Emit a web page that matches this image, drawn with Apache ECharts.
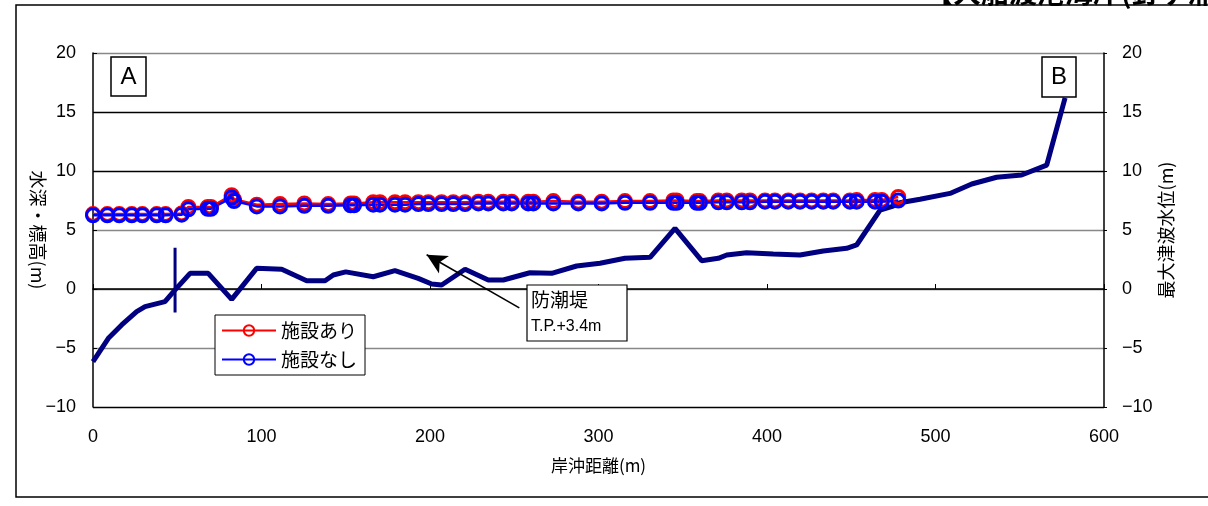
<!DOCTYPE html>
<html>
<head>
<meta charset="utf-8">
<script src="https://cdn.jsdelivr.net/npm/echarts@6/dist/echarts.min.js"></script>
<style>
  html, body { margin: 0; padding: 0; background: #fff; }
  #main { width: 1208px; height: 506px; }
</style>
</head>
<body>
<div id="main"></div>
<script>
// 地盤高（岸沖距離, 標高）
var groundX = [0, 9.1, 17, 25.9, 30.9, 42.7, 48.7, 57.6, 68.4, 82.3, 97.1, 112, 126.8, 137.7, 142.6, 150,
  166.3, 179.2, 193, 201, 206.9, 220.8, 234.6, 243.5, 259.3, 272.2, 287, 300.9, 315.7, 330.6, 345.4,
  361.2, 371.1, 376.1, 387.9, 403.7, 419.6, 433.4, 447.3, 453.2, 467.1, 474.9, 478.9, 490.8, 508.6,
  521.5, 536.3, 551.1, 566, 576.9];
var groundY = [-6.16, -4.18, -3.05, -1.92, -1.5, -1.07, -0.08, 1.33, 1.33, -0.88, 1.75, 1.67, 0.7, 0.7, 1.19, 1.45,
  1.04, 1.55, 0.9, 0.42, 0.34, 1.67, 0.76, 0.76, 1.38, 1.33, 1.95, 2.18, 2.6, 2.69, 5.14,
  2.4, 2.6, 2.88, 3.08, 2.97, 2.88, 3.22, 3.45, 3.73, 6.69, 7.03, 7.31, 7.6, 8.1,
  8.9, 9.47, 9.66, 10.5, 16.2];

// 防潮堤
var wallX = [48.7, 48.7];
var wallY = [3.5, -2.0];

// 最大津波水位の出力地点
var stations = [0, 8.5, 15.6, 23, 29.3, 37.8, 43.1, 52.6, 56.6, 68.1, 70, 82.3, 83.7, 97.2, 111, 125.4,
  139.6, 152.9, 154.9, 166.3, 170.3, 179.2, 185.2, 193.1, 199, 206.9, 213.8, 220.8, 228.7, 234.6,
  243.5, 248.5, 258.3, 261.3, 273.2, 288, 301.9, 315.7, 330.6, 344.4, 346.4, 358.3, 360.2, 371.1,
  376.1, 385, 389.9, 398.8, 404.7, 412.6, 419.6, 426.5, 433.4, 439.3, 449.2, 453.2, 464.1, 468.1, 477.9];
var withFacility = [6.35, 6.35, 6.35, 6.35, 6.35, 6.35, 6.35, 6.4, 6.95, 6.95, 6.95, 7.95, 7.6, 7.15, 7.2, 7.25,
  7.2, 7.25, 7.25, 7.35, 7.35, 7.35, 7.35, 7.35, 7.35, 7.35, 7.35, 7.35, 7.4, 7.4,
  7.4, 7.4, 7.4, 7.4, 7.45, 7.4, 7.4, 7.45, 7.45, 7.5, 7.5, 7.45, 7.45, 7.5,
  7.5, 7.5, 7.5, 7.5, 7.5, 7.5, 7.5, 7.5, 7.5, 7.5, 7.5, 7.55, 7.55, 7.55, 7.8];
var withoutFacility = [6.25, 6.25, 6.25, 6.25, 6.25, 6.25, 6.25, 6.3, 6.75, 6.8, 6.8, 7.75, 7.45, 7.0, 7.0, 7.05,
  7.05, 7.1, 7.1, 7.15, 7.15, 7.15, 7.15, 7.2, 7.2, 7.2, 7.2, 7.2, 7.25, 7.25,
  7.25, 7.25, 7.25, 7.25, 7.25, 7.25, 7.25, 7.3, 7.3, 7.3, 7.3, 7.3, 7.3, 7.35,
  7.35, 7.35, 7.35, 7.4, 7.4, 7.4, 7.4, 7.4, 7.4, 7.4, 7.4, 7.4, 7.4, 7.4, 7.5];

var seriesNames = ['施設あり', '施設なし'];

function pairs(xs, ys) {
  return xs.map(function (x, i) { return [x, ys[i]]; });
}

var numFont = "'Liberation Sans', Arial, sans-serif";
var jpFont = "'Noto Sans CJK JP', sans-serif";
function minus(v) { return String(v).replace('-', '\u2212'); }

var option = {
  backgroundColor: '#fff',
  animation: false,
  grid: { left: 93, top: 53, width: 1011, height: 354 },
  legend: {
    data: seriesNames,
    orient: 'vertical',
    left: 215, top: 315,
    padding: [6, 8, 6, 6],
    itemWidth: 54, itemHeight: 13, itemGap: 10, itemTextGap: 5,
    borderColor: '#000', borderWidth: 1, borderRadius: 0,
    backgroundColor: '#fff',
    textStyle: { fontSize: 19, fontFamily: jpFont, color: '#000' }
  },
  xAxis: {
    type: 'value', min: 0, max: 600, interval: 100,
    name: '岸沖距離(m)', nameLocation: 'middle', nameGap: 50,
    nameTextStyle: { fontSize: 17, fontFamily: jpFont, color: '#000' },
    axisLine: { lineStyle: { color: '#000', width: 1.5 } },
    axisTick: { inside: true, length: 5, lineStyle: { color: '#000' } },
    axisLabel: { fontSize: 18, fontFamily: numFont, color: '#000', margin: 21 },
    splitLine: { show: false }
  },
  yAxis: [{
    type: 'value', min: -10, max: 20, interval: 5,
    name: '水深・標高(m)', nameLocation: 'middle', nameGap: 46, nameRotate: -90,
    nameMoveOverlap: false,
    nameTextStyle: { fontSize: 18, fontFamily: jpFont, color: '#000' },
    axisLine: { show: true, lineStyle: { color: '#000', width: 1.5 } },
    axisTick: { show: true, inside: true, length: 4, lineStyle: { color: '#000' } },
    axisLabel: { fontSize: 18, fontFamily: numFont, color: '#000', margin: 17, formatter: minus },
    splitLine: { show: true, lineStyle: { color: ['#000', '#888', '#666', '#888', '#000', '#000', '#888'], width: 1.3 } }
  }, {
    type: 'value', min: -10, max: 20, interval: 5, position: 'right',
    name: '最大津波水位(m)', nameLocation: 'middle', nameGap: 53, nameRotate: 90,
    nameMoveOverlap: false,
    nameTextStyle: { fontSize: 18, fontFamily: jpFont, color: '#000' },
    axisLine: { show: true, lineStyle: { color: '#000', width: 1.5 } },
    axisTick: { show: true, inside: false, length: 3, lineStyle: { color: '#000' } },
    axisLabel: { fontSize: 18, fontFamily: numFont, color: '#000', margin: 18, formatter: minus },
    splitLine: { show: false }
  }],
  series: [{
    name: '地盤高', type: 'line', data: pairs(groundX, groundY),
    showSymbol: false, symbol: 'none', silent: true,
    lineStyle: { color: '#000080', width: 5 },
    markLine: {
      silent: true, symbol: ['arrow', 'none'], symbolSize: [15, 20],
      label: { show: false },
      lineStyle: { color: '#000', width: 1.6, type: 'solid' },
      data: [[{ coord: [198, 2.9] }, { coord: [253, -1.6] }]]
    }
  }, {
    name: '防潮堤', type: 'line', data: pairs(wallX, wallY),
    symbol: 'none', silent: true,
    lineStyle: { color: '#000080', width: 3 }
  }, {
    name: seriesNames[0], type: 'line', data: pairs(stations, withFacility),
    symbol: 'circle', symbolSize: 13, color: '#ff0000',
    lineStyle: { color: '#ff0000', width: 2.5 },
    itemStyle: { color: 'rgba(0,0,0,0)', borderColor: '#ff0000', borderWidth: 3 }
  }, {
    name: seriesNames[1], type: 'line', data: pairs(stations, withoutFacility),
    symbol: 'circle', symbolSize: 13, color: '#0000ff',
    lineStyle: { color: '#0000ff', width: 2.5 },
    itemStyle: { color: 'rgba(0,0,0,0)', borderColor: '#0000ff', borderWidth: 3 }
  }],
  graphic: [
    { type: 'rect', shape: { x: 16, y: 5, width: 1220, height: 492 }, style: { fill: 'none', stroke: '#000', lineWidth: 1.5 }, silent: true },
    { type: 'text', left: 925, top: -22, style: { text: '【大船渡港海岸(釘ヶ浦)】', font: "bold 28px 'Noto Sans CJK JP'", fill: '#000' }, silent: true },
    { type: 'rect', shape: { x: 111, y: 57, width: 35, height: 39 }, style: { fill: '#fff', stroke: '#000', lineWidth: 1.5 }, z: 10 },
    { type: 'text', x: 128.5, y: 77, style: { text: 'A', font: "24px 'Liberation Sans'", fill: '#000', align: 'center', verticalAlign: 'middle' }, z: 11 },
    { type: 'rect', shape: { x: 1042, y: 57, width: 34, height: 40 }, style: { fill: '#fff', stroke: '#000', lineWidth: 1.5 }, z: 10 },
    { type: 'text', x: 1059, y: 77, style: { text: 'B', font: "24px 'Liberation Sans'", fill: '#000', align: 'center', verticalAlign: 'middle' }, z: 11 },
    { type: 'rect', shape: { x: 527, y: 285, width: 100, height: 56 }, style: { fill: '#fff', stroke: '#000', lineWidth: 1.2 }, z: 10 },
    { type: 'text', x: 531, y: 300, style: { text: '防潮堤', font: "19px 'Noto Sans CJK JP'", fill: '#000', verticalAlign: 'middle' }, z: 11 },
    { type: 'text', x: 531, y: 327, style: { text: 'T.P.+3.4m', font: "16px 'Liberation Sans'", fill: '#000', verticalAlign: 'middle' }, z: 11 }
  ]
};

var myChart = echarts.init(document.getElementById('main'));
myChart.setOption(option);
</script>
</body>
</html>
